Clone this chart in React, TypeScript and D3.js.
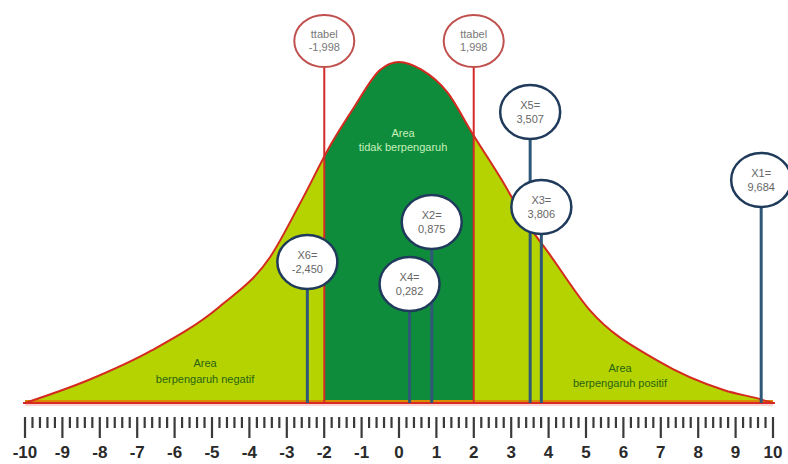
import React from "react";
import * as d3 from "d3";

// curve (t value, density)
const curveX = [-10, -8.3, -6.6, -4.8, -3.45, -2.6, -1.8, -1.2, -0.5, 0, 0.6, 1.3, 1.95, 2.7, 3.5, 4, 5.1, 6.9, 8.7, 9.7, 10];
const curveY = [0, 0.027, 0.062, 0.113, 0.171, 0.238, 0.305, 0.347, 0.391, 0.4, 0.391, 0.364, 0.317, 0.265, 0.206, 0.176, 0.109, 0.05, 0.015, 0.004, 0];

const tTable = [-1.998, 1.998];
const tTableLabels = ["-1,998", "1,998"];

const varNames = ["X1", "X2", "X3", "X4", "X5", "X6"];
const varValues = [9.684, 0.875, 3.806, 0.282, 3.507, -2.45];
const varLabels = ["9,684", "0,875", "3,806", "0,282", "3,507", "-2,450"];

const tickValues = d3.range(-10, 11);

// layout: bubble centre heights in px
const bubbleY: Record<string, number> = { X1: 180, X2: 222, X3: 207, X4: 284, X5: 112, X6: 262 };

const W = 788;
const H = 464;
const BASE = 403;
const FONT = "'Liberation Sans', Arial, sans-serif";

export default function App() {
  const x = d3.scaleLinear().domain([-10, 10]).range([25, 773]);
  const y = d3.scaleLinear().domain([0, 0.4]).range([BASE, 62]);
  const pts: [number, number][] = curveX.map((v, i) => [v, curveY[i]]);

  const area = d3
    .area<[number, number]>()
    .x((d) => x(d[0]))
    .y0(BASE)
    .y1((d) => y(d[1]))
    .curve(d3.curveMonotoneX);
  const line = d3
    .line<[number, number]>()
    .x((d) => x(d[0]))
    .y((d) => y(d[1]))
    .curve(d3.curveMonotoneX);

  const minor = d3.range(-10, 10.001, 0.2).filter((v) => Math.abs(v - Math.round(v)) > 0.01);

  const rx = 30;
  const ry = 27;

  return (
    <div style={{ position: "absolute", left: 0, top: 0 }}>
      <svg width={W} height={H} style={{ display: "block", background: "#fff" }}>
        <defs>
          <clipPath id="clipL">
            <rect x={0} y={0} width={x(tTable[0])} height={H} />
          </clipPath>
          <clipPath id="clipM">
            <rect x={x(tTable[0])} y={0} width={x(tTable[1]) - x(tTable[0])} height={H} />
          </clipPath>
          <clipPath id="clipR">
            <rect x={x(tTable[1])} y={0} width={W - x(tTable[1])} height={H} />
          </clipPath>
        </defs>

        {/* filled regions */}
        <path d={area(pts) || ""} fill="#b4d300" clipPath="url(#clipL)" />
        <path d={area(pts) || ""} fill="#b4d300" clipPath="url(#clipR)" />
        <path d={area(pts) || ""} fill="#0e8b3b" clipPath="url(#clipM)" />

        {/* bottom strip */}
        <line x1={x(-10)} x2={x(10)} y1={BASE - 2} y2={BASE - 2} stroke="#d88a00" strokeWidth={2} />
        <line x1={x(-10)} x2={x(10)} y1={BASE + 2} y2={BASE + 2} stroke="#f8d4d4" strokeWidth={2} />
        <line x1={x(-10) - 2} x2={x(10) + 2} y1={BASE} y2={BASE} stroke="#d82a22" strokeWidth={2} />

        {/* curve outline */}
        <path d={line(pts) || ""} fill="none" stroke="#d42a20" strokeWidth={2} />

        {/* area labels */}
        <g fontFamily={FONT} fontSize={11} textAnchor="middle">
          <text x={403} y={137} fill="#c8f0bc">Area</text>
          <text x={403} y={151} fill="#c8f0bc">tidak berpengaruh</text>
          <text x={205} y={367} fill="#2a6410">Area</text>
          <text x={205} y={383} fill="#2a6410">berpengaruh negatif</text>
          <text x={620} y={372} fill="#2a6410">Area</text>
          <text x={620} y={387} fill="#2a6410">berpengaruh positif</text>
        </g>

        {/* variable lines */}
        {varNames.map((n, i) => (
          <line
            key={"l" + n}
            x1={x(varValues[i])}
            x2={x(varValues[i])}
            y1={bubbleY[n] + ry}
            y2={BASE}
            stroke="#2f5878"
            strokeWidth={3}
          />
        ))}

        {/* t table lines and bubbles */}
        {tTable.map((v, i) => (
          <g key={"t" + i}>
            <line x1={x(v)} x2={x(v)} y1={67} y2={BASE} stroke="#d42a28" strokeWidth={2} />
            <ellipse cx={x(v)} cy={41} rx={30} ry={26} fill="#fff" stroke="#c0504d" strokeWidth={2} />
            <text x={x(v)} y={38} textAnchor="middle" fontFamily={FONT} fontSize={11} fill="#777">
              ttabel
            </text>
            <text x={x(v)} y={51} textAnchor="middle" fontFamily={FONT} fontSize={11} fill="#777">
              {tTableLabels[i]}
            </text>
          </g>
        ))}

        {/* variable bubbles */}
        {varNames.map((n, i) => (
          <g key={"b" + n}>
            <ellipse
              cx={x(varValues[i])}
              cy={bubbleY[n]}
              rx={rx}
              ry={ry}
              fill="#fff"
              stroke="#1f3a5a"
              strokeWidth={2.5}
            />
            <text x={x(varValues[i])} y={bubbleY[n] - 3} textAnchor="middle" fontFamily={FONT} fontSize={11} fill="#666">
              {n}=
            </text>
            <text x={x(varValues[i])} y={bubbleY[n] + 11} textAnchor="middle" fontFamily={FONT} fontSize={11} fill="#666">
              {varLabels[i]}
            </text>
          </g>
        ))}

        {/* ruler axis */}
        <g stroke="#3a3a3a" strokeWidth={2.2}>
          {minor.map((v, i) => (
            <line key={"m" + i} x1={x(v)} x2={x(v)} y1={417} y2={428} />
          ))}
          {tickValues.map((v) => (
            <line key={"M" + v} x1={x(v)} x2={x(v)} y1={417} y2={438} />
          ))}
        </g>
        <g fontFamily={FONT} fontSize={17} fontWeight="bold" fill="#2a2a2a" textAnchor="middle">
          {tickValues.map((v) => (
            <text key={"tl" + v} x={x(v)} y={458}>
              {String(v)}
            </text>
          ))}
        </g>
      </svg>
    </div>
  );
}
